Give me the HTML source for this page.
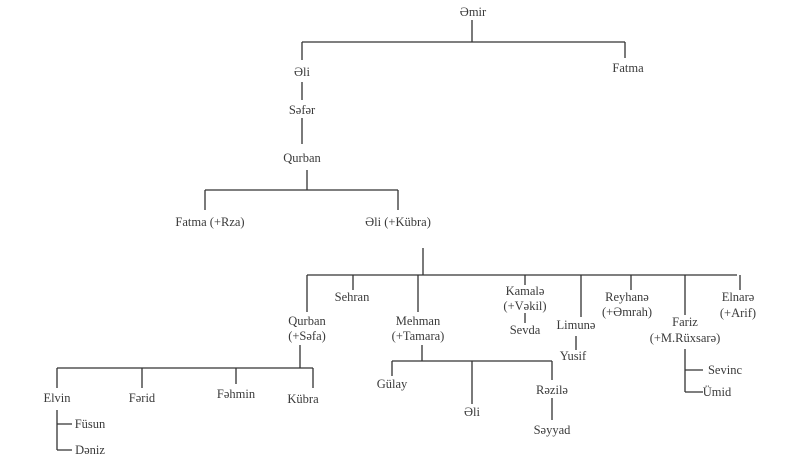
<!DOCTYPE html>
<html><head><meta charset="utf-8"><style>
html,body{margin:0;padding:0;background:#fff;}
svg text{font-family:"Liberation Serif",serif;font-size:12.5px;fill:#3a3a3a;text-anchor:middle;}
</style></head><body>
<svg width="800" height="469" viewBox="0 0 800 469" xmlns="http://www.w3.org/2000/svg">
<g stroke="#333" stroke-width="1.3" fill="none">
<path d="M472 20V42M302 42H625M302 42V60M625 42V58"/>
<path d="M302 82V100M302 118V144"/>
<path d="M307 170V190M205 190H398M205 190V210M398 190V210"/>
<path d="M423 248V275M307 275H737"/>
<path d="M307 275V312M353 275V290M418 275V312M525 275V285M581 275V317M631 275V290M685 275V315M740 275V290"/>
<path d="M525 313V323M576 336V350"/>
<path d="M300 345V368M57 368H313M57 368V388M142 368V388M236 368V384M313 368V388"/>
<path d="M57 410V450M57 424H72M57 450H72"/>
<path d="M422 345V361M392 361H552M392 361V376M472 361V404M552 361V380M552 398V420"/>
<path d="M685 349V392M685 370H703M685 392H703"/>
</g>
<text x="473" y="16">Əmir</text>
<text x="628" y="72">Fatma</text>
<text x="302" y="76">Əli</text>
<text x="302" y="114">Səfər</text>
<text x="302" y="162">Qurban</text>
<text x="210" y="226">Fatma (+Rza)</text>
<text x="398" y="226">Əli (+Kübra)</text>
<text x="307" y="325">Qurban</text><text x="307" y="340">(+Səfa)</text>
<text x="352" y="301">Sehran</text>
<text x="418" y="325">Mehman</text><text x="418" y="340">(+Tamara)</text>
<text x="525" y="295">Kamalə</text><text x="525" y="310">(+Vəkil)</text>
<text x="525" y="334">Sevda</text>
<text x="576" y="329">Limunə</text>
<text x="573" y="360">Yusif</text>
<text x="627" y="301">Reyhanə</text><text x="627" y="316">(+Əmrah)</text>
<text x="685" y="326">Fariz</text><text x="685" y="342">(+M.Rüxsarə)</text>
<text x="738" y="301">Elnarə</text><text x="738" y="317">(+Arif)</text>
<text x="57" y="402">Elvin</text>
<text x="142" y="402">Fərid</text>
<text x="236" y="398">Fəhmin</text>
<text x="303" y="403">Kübra</text>
<text x="90" y="428">Füsun</text>
<text x="90" y="454">Dəniz</text>
<text x="392" y="388">Gülay</text>
<text x="472" y="416">Əli</text>
<text x="552" y="394">Rəzilə</text>
<text x="552" y="434">Səyyad</text>
<text x="725" y="374">Sevinc</text>
<text x="717" y="396">Ümid</text>
</svg>
</body></html>
